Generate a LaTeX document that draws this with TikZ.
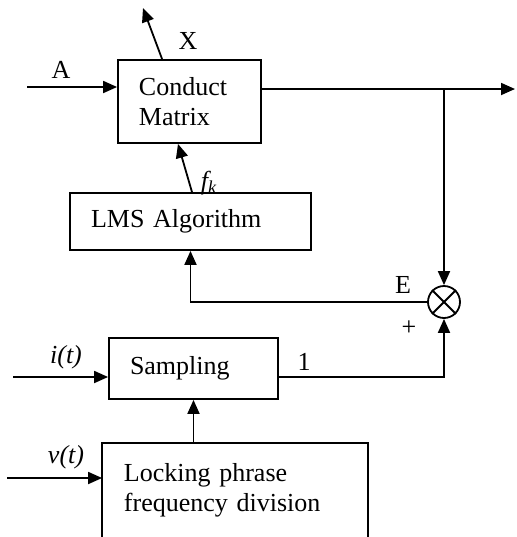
\documentclass[tikz,border=0pt]{standalone}
\usepackage{fontspec}
\setmainfont{Liberation Serif}
\usetikzlibrary{arrows.meta}

\begin{document}
\begin{tikzpicture}[x=0.5pt, y=-0.5pt, line width=0.9pt,
    block/.style={draw, align=left, inner xsep=10.5pt, inner ysep=0pt, font=\fontsize{13pt}{15pt}\selectfont},
    lbl/.style={inner sep=0pt, font=\fontsize{13pt}{15pt}\selectfont},
    arr/.style={-{Triangle[length=7pt,width=6pt]}}]

    \useasboundingbox (0,0) rectangle (516,537);

    % blocks
    \node(cm)[block, text width=50.5pt, minimum height=41.5pt] at (189.5,101.5) {Conduct\\Matrix};
    \node(lms)[block, text width=99.5pt, minimum height=28.5pt] at (190.5,221.5) {LMS Algorithm};
    \node(samp)[block, text width=63.5pt, minimum height=30.5pt] at (193.5,368.5) {Sampling};
    \node(lock)[block, draw=none, text width=111pt, minimum height=46pt] at (235,490) {Locking phrase\\frequency division};
    \draw (lock.south west) -- (lock.north west) -- (lock.north east) -- (lock.south east);
    \node(mul)[draw, circle, minimum size=16pt, inner sep=0pt] at (444,302) {};
    \draw (mul.north west) -- (mul.south east);
    \draw (mul.north east) -- (mul.south west);

    % inputs and outputs
    \coordinate(ain) at (27,87);
    \draw[arr] (ain) -- (ain -| cm.west);
    \node(alab)[lbl] at (61,70) {A};
    \coordinate(xout) at (143,8);
    \draw[arr] ([xshift=22.5pt]cm.north west) -- (xout);
    \node(xlab)[lbl] at (188,41) {X};
    \coordinate(yout) at (515,89);
    \draw[arr] (cm.east |- yout) -- (yout);
    \coordinate(branch) at (444,89);
    \draw[arr] (branch) -- (mul.north);

    % feedback
    \draw[arr] ([xshift=0.75pt]lms.north) -- ([xshift=-5.75pt]cm.south);
    \node(fklab)[lbl] at (209,183) {\itshape f\textsubscript{k}};
    \draw[arr] (mul.west) -| (lms.south);
    \node(elab)[lbl] at (403,285) {E};
    \node(plab)[lbl] at (409,328) {+};

    % sampling branch
    \coordinate(sout) at (444,377);
    \draw[arr] (samp.east |- sout) -- (sout) -- (mul.south);
    \node(onelab)[lbl] at (304,362) {1};
    \coordinate(iin) at (13,377);
    \draw[arr] (iin) -- (iin -| samp.west);
    \node(ilab)[lbl] at (66,357) {\itshape i(t)};
    \draw[arr] (lock.north -| samp.south) -- (samp.south);
    \coordinate(vin) at (7,478);
    \draw[arr] (vin) -- (vin -| lock.west);
    \node(vlab)[lbl] at (66,457) {\itshape v(t)};

\end{tikzpicture}
\end{document}
